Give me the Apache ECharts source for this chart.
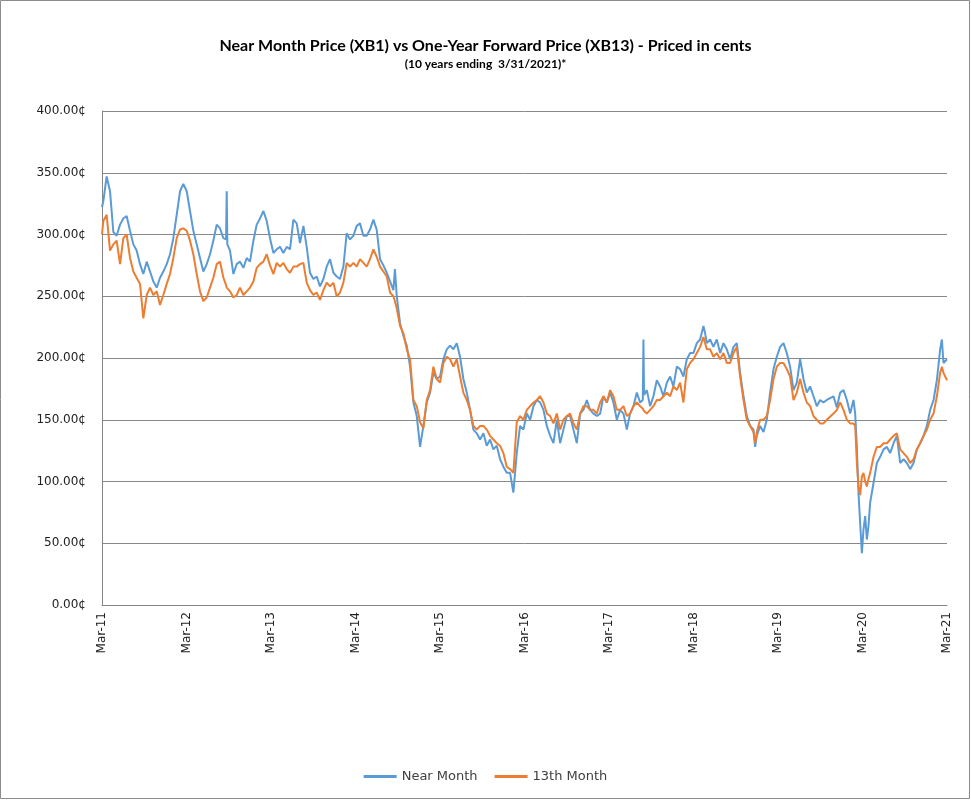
<!DOCTYPE html>
<html>
<head>
<meta charset="utf-8">
<script src="https://cdn.jsdelivr.net/npm/echarts@6/dist/echarts.min.js"></script>
<style>
html,body{margin:0;padding:0;background:#fff;}
#chart{width:971px;height:801px;}
</style>
</head>
<body>
<div id="chart"></div>
<script>
// Months since Mar-2011 (x position of each sample)
const monthsFromMar11 = [
 0, 0.19, 0.66, 1.14, 1.61, 2.08, 2.56, 3.03, 3.50, 3.98, 4.45, 4.92, 5.40, 5.87, 6.35, 6.82, 7.29, 7.77, 8.24, 8.71, 9.19, 9.66, 10.13, 10.61, 11.08, 11.55, 12.03, 12.50, 12.97, 13.45, 13.92, 14.39, 14.87, 15.34, 15.81, 16.29, 16.76, 17.24, 17.62, 17.71, 17.80, 18.18, 18.66, 19.13, 19.60, 20.08, 20.55, 21.02, 21.50, 21.97, 22.44, 22.92, 23.39, 23.86, 24.34,
 24.81, 25.28, 25.76, 26.23, 26.70, 27.18, 27.65, 28.12, 28.60, 29.07, 29.54, 30.02, 30.49, 30.96, 31.44, 31.91, 32.38, 32.86, 33.33, 33.80, 34.28, 34.75, 35.22, 35.70, 36.17, 36.64, 37.12, 37.59, 38.06, 38.54, 39.01,
 39.49, 39.96, 40.44, 40.91, 41.38, 41.60, 41.86, 42.33, 42.80, 43.28, 43.75, 44.22, 44.70, 45.17, 45.64, 46.12, 46.59, 47.06, 47.54, 48.01, 48.48, 48.96, 49.43, 49.90, 50.38, 50.85, 51.32, 51.80, 52.27, 52.74, 53.22, 53.69, 54.16, 54.64, 55.11, 55.58, 56.06, 56.53, 57.00, 57.48, 57.95, 58.42, 58.90, 59.37, 59.84,
 60.33, 60.80, 61.27, 61.75, 62.22, 62.69, 63.17, 63.64, 64.11, 64.59, 65.06, 65.53, 66.01, 66.48, 66.95, 67.43, 67.90, 68.37, 68.85, 69.32, 69.79, 70.27, 70.74, 71.21, 71.69, 72.16, 72.63, 73.11, 73.58, 74.05, 74.53, 75.00, 75.47, 75.95, 76.42, 76.80, 76.89, 76.98, 77.37, 77.84, 78.31, 78.79, 79.26, 79.73, 80.21, 80.68, 81.15, 81.63, 82.10, 82.57, 83.05, 83.52, 83.99, 84.47,
 84.94, 85.41, 85.65, 85.89, 86.36, 86.83, 87.31, 87.78, 88.25, 88.73, 89.20, 89.68, 90.15, 90.62, 91.10, 91.57, 92.04, 92.52, 92.75, 92.99, 93.46, 93.94, 94.41, 94.88, 95.36, 95.83, 96.30, 96.78, 97.25, 97.72, 98.20, 98.67, 99.14, 99.62, 100.09, 100.56, 101.04, 101.51, 101.98, 102.46, 102.93,
 103.88, 104.36, 104.83, 105.30, 105.78, 106.25, 106.72, 106.96, 107.20, 107.43, 107.67, 107.91, 108.14, 108.38, 108.62, 108.85, 109.09, 109.57, 110.04, 110.51, 110.99, 111.46, 111.93, 112.41, 112.88, 113.35, 113.83, 114.30, 114.77, 115.25, 115.72, 116.19, 116.67, 117.14, 117.61, 118.09, 118.56, 119.03, 119.27, 119.50, 120
];

// Near Month (XB1), cents
const nearMonth = [
 322, 327, 347, 335, 302, 299, 308, 313, 315, 303, 292, 287, 276, 268, 278, 270, 262, 257, 265, 270, 276, 284, 297, 316, 335, 341, 335, 319, 303, 292, 281, 270, 276, 284, 295, 308, 305, 297, 296, 335, 292, 287, 268, 276, 278, 273, 281, 278, 295, 308, 313, 319, 311, 297, 285,
 288, 290, 285, 290, 288, 312, 309, 293, 307, 290, 269, 264, 266, 258, 264, 274, 280, 269, 266, 264, 274, 301, 296, 299, 307, 309, 299, 299, 304, 312, 304,
 280, 275, 269, 262, 255, 272, 250, 228, 218, 210, 193, 164, 153, 128, 145, 164, 172, 188, 183, 185, 199, 207, 210, 207, 212, 201, 183, 172, 158, 142, 139, 134, 139, 129, 134, 126, 129, 118, 112, 107, 107, 91, 123, 145, 142,
 155, 150, 161, 166, 164, 158, 145, 137, 131, 150, 131, 142, 153, 153, 142, 131, 155, 158, 166, 158, 155, 153, 155, 169, 164, 172, 164, 150, 158, 155, 142, 155, 161, 172, 164, 166, 215, 170, 174, 161, 169, 182, 177, 169, 180, 185, 177, 193, 191, 185, 199, 204, 204, 212,
 215, 226, 220, 212, 215, 209, 215, 204, 212, 207, 199, 209, 212, 188, 169, 153, 145, 142, 128, 137, 145, 140, 150, 172, 191, 201, 209, 212, 204, 193, 174, 180, 199, 183, 172, 177, 169, 161, 166, 164, 166,
 169, 160, 172, 174, 166, 155, 166, 155, 128, 91, 66, 42, 61, 72, 53, 64, 83, 99, 115, 120, 126, 128, 123, 131, 137, 115, 118, 115, 110, 115, 126, 131, 137, 145, 158, 166, 182, 207, 215, 196, 199
];

// 13th Month (XB13), cents
const month13 = [
 300, 311, 316, 287, 292, 295, 276, 297, 300, 281, 270, 265, 260, 232, 251, 257, 251, 254, 243, 251, 260, 268, 281, 297, 304, 305, 303, 295, 284, 268, 254, 246, 249, 257, 265, 276, 278, 265, 259, 257, 256, 254, 249, 251, 257, 251, 254, 257, 262, 273, 276, 278, 284, 275, 268,
 277, 274, 277, 272, 269, 274, 274, 276, 277, 261, 255, 251, 253, 247, 255, 261, 258, 261, 250, 253, 261, 277, 274, 277, 274, 280, 277, 274, 280, 288, 282,
 274, 270, 266, 253, 250, 246, 240, 226, 220, 207, 199, 166, 161, 148, 143, 166, 174, 193, 183, 180, 196, 201, 199, 193, 199, 185, 172, 166, 158, 145, 142, 145, 145, 142, 137, 134, 131, 129, 123, 112, 110, 107, 148, 153, 150,
 158, 161, 164, 166, 169, 164, 155, 153, 147, 155, 142, 150, 153, 155, 147, 142, 155, 161, 161, 158, 158, 155, 164, 169, 164, 174, 169, 158, 158, 161, 153, 155, 161, 164, 161, 159, 158, 157, 155, 158, 161, 166, 166, 169, 172, 169, 177, 174, 180, 164, 191, 196, 199, 204,
 209, 217, 212, 207, 207, 201, 204, 199, 204, 196, 196, 204, 209, 185, 166, 150, 145, 140, 131, 140, 150, 150, 153, 166, 183, 193, 196, 196, 191, 185, 166, 172, 183, 172, 164, 161, 153, 150, 147, 147, 150,
 155, 158, 164, 158, 150, 147, 147, 145, 115, 96, 89, 104, 107, 100, 96, 102, 107, 120, 128, 128, 131, 131, 134, 137, 139, 126, 123, 120, 115, 118, 126, 131, 137, 142, 150, 155, 169, 188, 193, 188, 182
];

// Tick labels (one per 12 months)
const xTickLabels = ['Mar-11','Mar-12','Mar-13','Mar-14','Mar-15','Mar-16','Mar-17','Mar-18','Mar-19','Mar-20','Mar-21'];
const seriesNames = ['Near Month', '13th Month'];

const nearData = monthsFromMar11.map((m, i) => [m, nearMonth[i]]);
const m13Data = monthsFromMar11.map((m, i) => [m, month13[i]]);

const chart = echarts.init(document.getElementById('chart'), null, {renderer: 'canvas'});
chart.setOption({
  animation: false,
  backgroundColor: '#fff',
  title: [
    {
      text: 'Near Month Price (XB1) vs One-Year Forward Price (XB13) - Priced in cents',
      left: 'center', top: 33,
      textStyle: {fontFamily: 'Lato', fontWeight: 'bold', fontSize: 16, color: '#000'}
    },
    {
      text: '(10 years ending  3/31/2021)*',
      left: 'center', top: 53,
      textStyle: {fontFamily: 'Lato', fontWeight: 'bold', fontSize: 12, color: '#000'}
    }
  ],
  graphic: [{
    type: 'rect', silent: true,
    shape: {x: 0.5, y: 0.5, width: 969, height: 798},
    style: {fill: 'none', stroke: '#8c8c8c', lineWidth: 1}
  }],
  legend: {
    data: seriesNames,
    bottom: 13,
    left: 'center',
    icon: 'rect',
    itemWidth: 33,
    itemHeight: 3,
    itemGap: 17,
    textStyle: {fontFamily: 'DejaVu Sans', fontSize: 13, color: '#404040'}
  },
  grid: {left: 102, right: 24, top: 111, bottom: 196, containLabel: false},
  xAxis: {
    type: 'value', min: 0, max: 120, interval: 12,
    axisLine: {show: true, lineStyle: {color: '#868686', width: 1}},
    axisTick: {show: false},
    splitLine: {show: false},
    axisLabel: {
      rotate: 90, margin: 7,
      fontFamily: 'DejaVu Sans', fontSize: 12, color: '#222',
      formatter: v => xTickLabels[Math.round(v / 12)]
    }
  },
  yAxis: {
    type: 'value', min: 0, max: 400, interval: 50,
    axisLine: {show: true, lineStyle: {color: '#868686', width: 1}},
    axisTick: {show: false},
    splitLine: {show: true, lineStyle: {color: '#898989', width: 1}},
    axisLabel: {
      margin: 16,
      fontFamily: 'DejaVu Sans', fontSize: 12, color: '#222',
      formatter: v => v.toFixed(2) + '\u00a2'
    }
  },
  series: [
    {
      name: seriesNames[0], type: 'line', data: nearData,
      showSymbol: false, symbol: 'none',
      lineStyle: {color: '#5B9BD5', width: 2},
      itemStyle: {color: '#5B9BD5'}
    },
    {
      name: seriesNames[1], type: 'line', data: m13Data,
      showSymbol: false, symbol: 'none',
      lineStyle: {color: '#ED7D31', width: 2},
      itemStyle: {color: '#ED7D31'}
    }
  ]
});
</script>
</body>
</html>
